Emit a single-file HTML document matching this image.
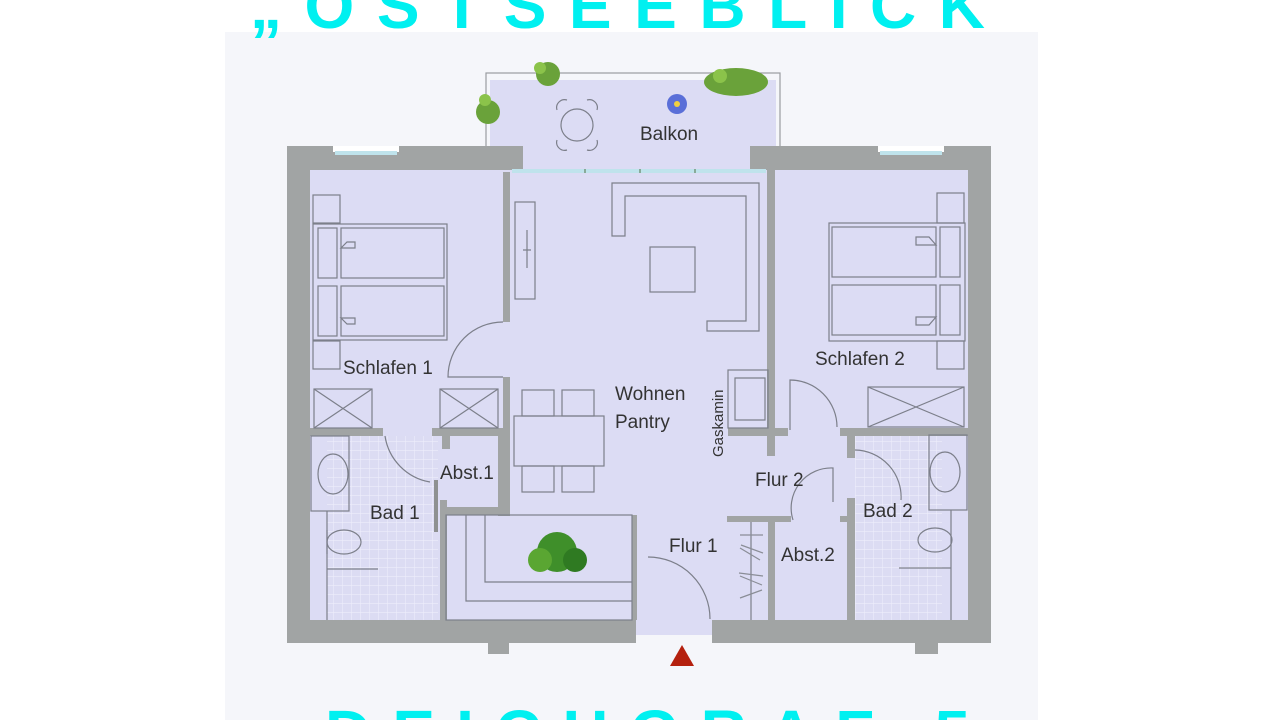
<!DOCTYPE html>
<html><head><meta charset="utf-8"><style>
html,body{margin:0;padding:0;background:#fff;width:1280px;height:720px;overflow:hidden}
svg{display:block}
</style></head><body>
<svg width="1280" height="720" viewBox="0 0 1280 720" xmlns="http://www.w3.org/2000/svg" font-family="Liberation Sans, sans-serif">
<defs>
<pattern id="tile" width="9" height="9" patternUnits="userSpaceOnUse">
<rect width="9" height="9" fill="#dcdcf3"/><path d="M0 0H9M0 0V9" stroke="#eeeefb" stroke-width="1.2"/>
</pattern>
</defs>
<rect x="225" y="32" width="813" height="688" fill="#f5f6fa"/>
<!-- balcony -->
<rect x="486" y="73" width="294" height="100" fill="none" stroke="#9a9ca0" stroke-width="1.2"/>
<rect x="490" y="80" width="286" height="92" fill="#dcdcf4"/>
<!-- outer walls -->
<path d="M287 146H523V137H490V80H776V137H750V146H991V643H938V654H915V643H712V635H636V643H509V654H488V643H287Z" fill="#a1a4a4"/>
<rect x="523" y="80" width="227" height="95" fill="#dcdcf4"/>
<rect x="490" y="80" width="286" height="57" fill="#dcdcf4"/>
<rect x="310" y="170" width="658" height="450" fill="#dcdcf4"/>
<rect x="636" y="618" width="76" height="17" fill="#dcdcf4"/>
<!-- windows -->
<rect x="333" y="146" width="66" height="6" fill="#fff"/><rect x="335" y="151" width="62" height="4" fill="#bfe3ec" stroke="#8fa" stroke-width="0"/>
<rect x="878" y="146" width="66" height="6" fill="#fff"/><rect x="880" y="151" width="62" height="4" fill="#bfe3ec"/>
<rect x="512" y="169" width="254" height="4" fill="#bfe3ec"/>
<g stroke="#8a9" stroke-width="2"><line x1="585" y1="169" x2="585" y2="173"/><line x1="640" y1="169" x2="640" y2="173"/><line x1="695" y1="169" x2="695" y2="173"/></g>
<!-- bathrooms tiles -->
<rect x="327" y="436" width="111" height="184" fill="url(#tile)"/>
<rect x="855" y="435" width="87" height="185" fill="url(#tile)"/>
<!-- interior walls -->
<g fill="#a1a4a4">
<rect x="503" y="172" width="7" height="150"/>
<rect x="503" y="377" width="7" height="60"/>
<rect x="310" y="428" width="73" height="8"/>
<rect x="432" y="428" width="78" height="8"/>
<rect x="442" y="436" width="8" height="13"/>
<rect x="498" y="436" width="12" height="80"/>
<rect x="446" y="507" width="64" height="8"/>
<rect x="440" y="500" width="7" height="120"/>
<rect x="632" y="515" width="5" height="105"/>
<rect x="767" y="170" width="8" height="262"/>
<rect x="728" y="428" width="60" height="8"/>
<rect x="767" y="436" width="8" height="20"/>
<rect x="840" y="428" width="128" height="8"/>
<rect x="847" y="428" width="8" height="30"/>
<rect x="847" y="498" width="8" height="122"/>
<rect x="840" y="516" width="15" height="6"/>
<rect x="727" y="516" width="64" height="6"/>
<rect x="768" y="516" width="7" height="104"/>
</g>
<rect x="434" y="480" width="4" height="52" fill="#8e9191"/>
<g fill="none" stroke="#7c7f8a" stroke-width="1.2">
<!-- doors -->
<path d="M503 322A55 55 0 0 0 448 377H503"/>
<path d="M385 436A55 55 0 0 0 430 482"/>
<path d="M648 557A62 62 0 0 1 710 619"/>
<path d="M790 430V380A47 47 0 0 1 837 427"/>
<path d="M793 520A40 40 0 0 1 833 468V502"/>
<path d="M855 450A47 47 0 0 1 901 500"/>
<!-- beds left -->
<rect x="313" y="195" width="27" height="28"/>
<rect x="313" y="224" width="134" height="116"/>
<rect x="318" y="228" width="19" height="50"/><rect x="318" y="286" width="19" height="50"/>
<rect x="341" y="228" width="103" height="50"/><rect x="341" y="286" width="103" height="50"/>
<path d="M341 248L347 242H355V248ZM341 318L347 324H355V318Z"/>
<rect x="313" y="341" width="27" height="28"/>
<rect x="314" y="389" width="58" height="39"/><path d="M314 389L372 428M372 389L314 428"/>
<rect x="440" y="389" width="58" height="39"/><path d="M440 389L498 428M498 389L440 428"/>
<!-- tv unit -->
<rect x="515" y="202" width="20" height="97"/><path d="M527 230V268M523 250H531"/>
<!-- sofa -->
<path d="M612 183H759V331H707V321H746V196H625V236H612Z"/>
<rect x="650" y="247" width="45" height="45"/>
<!-- table -->
<rect x="514" y="416" width="90" height="50"/>
<rect x="522" y="390" width="32" height="26"/><rect x="562" y="390" width="32" height="26"/>
<rect x="522" y="466" width="32" height="26"/><rect x="562" y="466" width="32" height="26"/>
<!-- gaskamin -->
<rect x="728" y="370" width="40" height="58"/><path d="M735 378H765V420H735Z"/>
<!-- schlafen 2 -->
<rect x="937" y="193" width="27" height="30"/>
<rect x="829" y="223" width="136" height="118"/>
<rect x="832" y="227" width="104" height="50"/><rect x="832" y="285" width="104" height="50"/>
<rect x="940" y="227" width="20" height="50"/><rect x="940" y="285" width="20" height="50"/>
<path d="M936 245L929 237H916V245ZM936 317L929 325H916V317Z"/>
<rect x="937" y="341" width="27" height="28"/>
<rect x="868" y="387" width="96" height="40"/><path d="M868 387L964 427M964 387L868 427"/>
<!-- bath 1 -->
<rect x="311" y="436" width="38" height="75"/>
<ellipse cx="333" cy="474" rx="15" ry="20"/>
<path d="M327 511V620"/>
<ellipse cx="344" cy="542" rx="17" ry="12"/><path d="M327 530V554"/>
<path d="M327 569H378"/>
<!-- bath 2 -->
<rect x="929" y="435" width="38" height="75"/>
<ellipse cx="945" cy="472" rx="15" ry="20"/>
<path d="M951 510V620"/>
<ellipse cx="935" cy="540" rx="17" ry="12"/>
<path d="M899 568H951"/>
<!-- planter -->
<rect x="446" y="515" width="186" height="105"/>
<path d="M466 515V601H632M485 515V582H632"/>
<!-- wardrobe flur -->
<path d="M751 522V620"/>
<g stroke="#8a8d96"><path d="M740 535H763M741 545L763 553M740 548L760 560M739 573L763 576M740 576L762 585M740 598L762 590"/></g>
<!-- balcony table -->
<circle cx="577" cy="125" r="16"/>
<path d="M557 110A8 8 0 0 1 567 100M587 100A8 8 0 0 1 597 110M557 140A8 8 0 0 0 567 150M597 140A8 8 0 0 1 587 150"/>
</g>
<!-- plants -->
<g fill="#6aa23a">
<circle cx="548" cy="74" r="12"/><circle cx="540" cy="68" r="6" fill="#8bc34a"/>
<circle cx="488" cy="112" r="12"/><circle cx="485" cy="100" r="6" fill="#8bc34a"/>
<ellipse cx="736" cy="82" rx="32" ry="14"/><circle cx="720" cy="76" r="7" fill="#8bc34a"/>
<circle cx="557" cy="552" r="20" fill="#3f8f2a"/><circle cx="540" cy="560" r="12" fill="#5aa632"/><circle cx="575" cy="560" r="12" fill="#2f7a22"/>
</g>
<circle cx="677" cy="104" r="10" fill="#5a6fd8"/><circle cx="677" cy="104" r="3" fill="#f0d040"/>
<polygon points="682,645 670,666 694,666" fill="#b4200e"/>
<!-- labels -->
<g fill="#333" font-size="19">
<text x="640" y="140">Balkon</text>
<text x="343" y="374">Schlafen 1</text>
<text x="615" y="400">Wohnen</text>
<text x="615" y="428">Pantry</text>
<text x="815" y="365">Schlafen 2</text>
<text x="755" y="486">Flur 2</text>
<text x="440" y="479">Abst.1</text>
<text x="370" y="519">Bad 1</text>
<text x="863" y="517">Bad 2</text>
<text x="669" y="552">Flur 1</text>
<text x="781" y="561">Abst.2</text>
<text transform="translate(723,457) rotate(-90)" font-size="15">Gaskamin</text>
</g>
<text x="250" y="28" font-size="64" font-weight="bold" fill="#00f0f0" textLength="735" lengthAdjust="spacing">„OSTSEEBLICK</text>
<text x="325" y="755" font-size="64" font-weight="bold" fill="#00f0f0" textLength="645" lengthAdjust="spacing">DEICHGRAF 5</text>
</svg>
</body></html>
